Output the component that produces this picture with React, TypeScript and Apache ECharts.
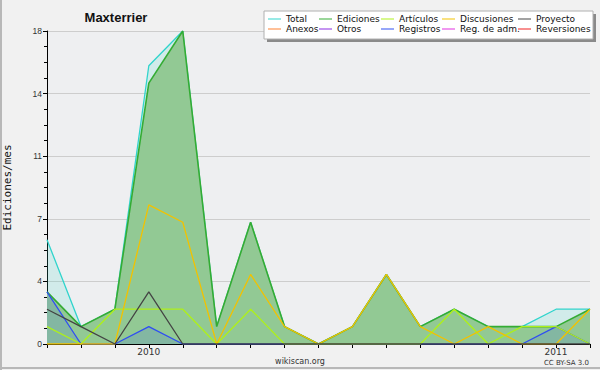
import React, { useEffect, useRef } from "react";
import * as echarts from "echarts";

const months = [
  "2009-10", "2009-11", "2009-12",
  "2010-01", "2010-02", "2010-03", "2010-04", "2010-05", "2010-06",
  "2010-07", "2010-08", "2010-09", "2010-10", "2010-11", "2010-12",
  "2011-01", "2011-02",
];
const total = [6, 1, 2, 16, 18, 1, 7, 1, 0, 1, 4, 1, 2, 1, 1, 2, 2];
const ediciones = [3, 1, 2, 15, 18, 1, 7, 1, 0, 1, 4, 1, 2, 1, 1, 1, 2];
const articulos = [1, 0, 2, 2, 2, 0, 2, 0, 0, 0, 0, 0, 2, 0, 1, 1, 0];
const discusiones = [0, 0, 0, 8, 7, 0, 4, 1, 0, 1, 4, 1, 0, 1, 0, 0, 2];
const proyecto = [2, 1, 0, 3, 0, 0, 0, 0, 0, 0, 0, 0, 0, 0, 0, 0, 0];
const registros = [3, 0, 0, 1, 0, 0, 0, 0, 0, 0, 0, 0, 0, 0, 0, 1, 0];
const anexos: number[] = [];
const otros: number[] = [];
const regAdm: number[] = [];
const reversiones: number[] = [];

const legendCols = [
  ["Total", "Anexos"],
  ["Ediciones", "Otros"],
  ["Artículos", "Registros"],
  ["Discusiones", "Reg. de adm."],
  ["Proyecto", "Reversiones"],
];
const legendLefts = [268, 319, 381, 442, 518];

export default function App() {
  const ref = useRef<HTMLDivElement>(null);
  useEffect(() => {
    document.body.style.margin = "0";
    if (!ref.current) return;
    const chart = echarts.init(ref.current, undefined, { renderer: "svg" });

    const line = (name: string, data: number[], color: string, extra: any = {}) => ({
      name,
      type: "line",
      data,
      showSymbol: false,
      symbol: "none",
      color,
      lineStyle: { color, width: 1.3 },
      itemStyle: { color },
      emphasis: { disabled: true },
      ...extra,
    });

    chart.setOption({
      animation: false,
      backgroundColor: "#f1f1f1",
      grid: {
        left: 47,
        right: 10,
        top: 31,
        bottom: 26,
        containLabel: false,
        outerBoundsMode: "none",
        show: true,
        backgroundColor: "#eeeff1",
        borderWidth: 0,
      },
      legend: legendCols.map((col, i) => ({
        data: col,
        orient: "vertical",
        left: legendLefts[i],
        top: 14,
        padding: 0,
        itemGap: 0,
        itemWidth: 13,
        itemHeight: 1,
        icon: "rect",
        selectedMode: false,
        textStyle: {
          fontFamily: "DejaVu Sans",
          fontSize: 9,
          lineHeight: 10,
          color: "#111",
        },
        z: 10,
      })),
      xAxis: {
        type: "category",
        data: months,
        boundaryGap: false,
        axisLine: { lineStyle: { color: "#000", width: 1 } },
        axisTick: { show: true, interval: 0, length: 4, lineStyle: { color: "#000" } },
        axisLabel: {
          interval: 0,
          margin: 3,
          fontFamily: "DejaVu Sans",
          fontSize: 9,
          color: "#333",
          formatter: (v: string) => (v.endsWith("-01") ? v.slice(0, 4) : ""),
        },
        splitLine: { show: false },
      },
      yAxis: {
        type: "value",
        min: 0,
        max: 18,
        interval: 3.6,
        name: "Ediciones/mes",
        nameLocation: "middle",
        nameGap: 34,
        nameRotate: 90,
        nameTextStyle: { fontFamily: "DejaVu Sans Mono", fontSize: 11, color: "#111" },
        axisLine: { show: true, lineStyle: { color: "#000", width: 1 } },
        axisTick: { show: true, length: 4, lineStyle: { color: "#000" } },
        minorTick: { show: true, splitNumber: 4, length: 3, lineStyle: { color: "#000" } },
        axisLabel: {
          margin: 5,
          fontFamily: "Liberation Sans",
          fontSize: 8.5,
          color: "#333",
          formatter: (v: number) => String(Math.round(v)),
        },
        splitLine: { show: true, lineStyle: { color: "#cdcdcd", width: 1 } },
      },
      series: [
        line("Total", total, "#30d4cc", {
          z: 1,
          areaStyle: { color: "rgba(64,216,200,0.16)", opacity: 1 },
        }),
        line("Ediciones", ediciones, "#34ac34", {
          z: 2,
          lineStyle: { color: "#34ac34", width: 1.6 },
          areaStyle: { color: "#92c994", opacity: 1 },
        }),
        line("Registros", registros, "#2f4ef2", {
          z: 3,
          areaStyle: { color: "rgba(48,80,240,0.15)", opacity: 1 },
        }),
        line("Artículos", articulos, "#aef01a", { z: 4 }),
        line("Discusiones", discusiones, "#f2c200", { z: 5 }),
        line("Proyecto", proyecto, "#444444", { z: 6 }),
        line("Anexos", anexos, "#ff8030", { z: 6 }),
        line("Otros", otros, "#8a2be2", { z: 6 }),
        line("Reg. de adm.", regAdm, "#e030e0", { z: 6 }),
        line("Reversiones", reversiones, "#f02020", { z: 6 }),
      ],
      graphic: [
        {
          type: "rect",
          z: 1,
          shape: { x: 267, y: 14, width: 329, height: 28 },
          style: { fill: "#8a8a8a" },
        },
        {
          type: "rect",
          z: 2,
          shape: { x: 264, y: 11, width: 329, height: 28 },
          style: { fill: "#ffffff", stroke: "#b0b0b0", lineWidth: 1 },
        },
        {
          type: "text",
          z: 5,
          x: 116,
          y: 17,
          style: {
            text: "Maxterrier",
            fontFamily: "Liberation Sans",
            fontWeight: "bold",
            fontSize: 13,
            fill: "#111",
            align: "center",
            verticalAlign: "middle",
          },
        },
        {
          type: "text",
          z: 5,
          x: 300,
          y: 361,
          style: {
            text: "wikiscan.org",
            fontFamily: "DejaVu Sans",
            fontSize: 8,
            fill: "#333",
            align: "center",
            verticalAlign: "middle",
          },
        },
        {
          type: "text",
          z: 5,
          x: 589,
          y: 363,
          style: {
            text: "CC BY-SA 3.0",
            fontFamily: "DejaVu Sans",
            fontSize: 7,
            fill: "#333",
            align: "right",
            verticalAlign: "middle",
          },
        },
        {
          type: "rect",
          z: 5,
          shape: { x: 0, y: 0, width: 2, height: 370 },
          style: { fill: "#b8b8b8" },
        },
        {
          type: "rect",
          z: 5,
          shape: { x: 0, y: 367, width: 600, height: 2 },
          style: { fill: "#b8b8b8" },
        },
      ],
    });
    return () => chart.dispose();
  }, []);
  return <div ref={ref} style={{ width: 600, height: 370 }} />;
}
